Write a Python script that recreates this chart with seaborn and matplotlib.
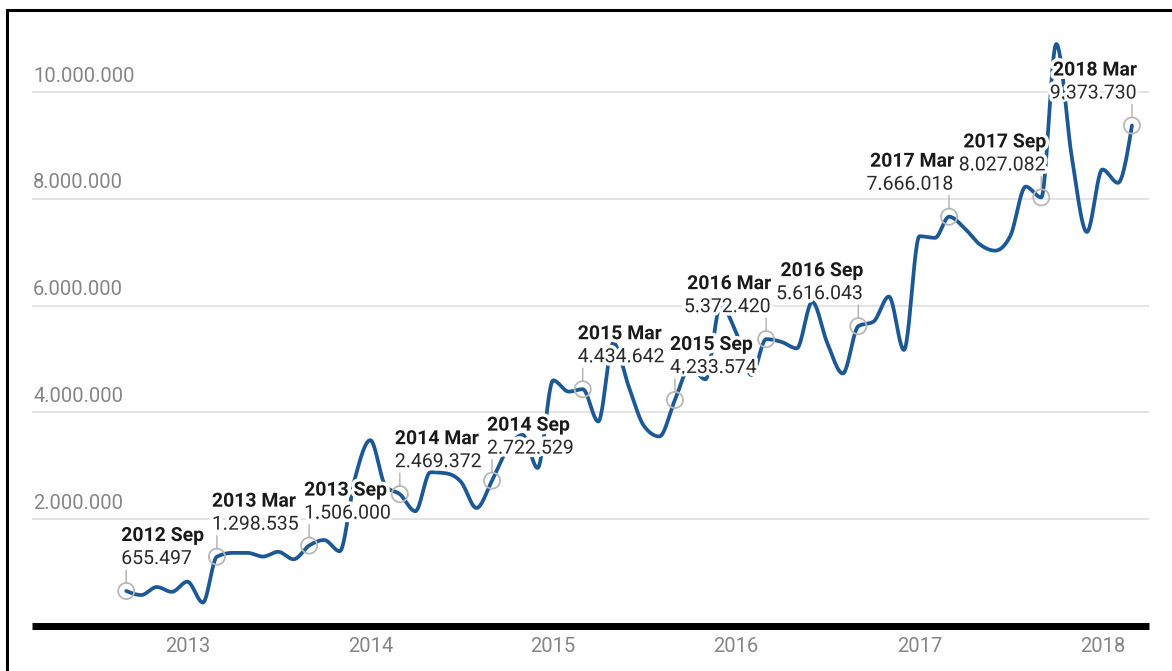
import numpy as np
import pandas as pd
import matplotlib
matplotlib.use("Agg")
import matplotlib.pyplot as plt
import matplotlib.dates as mdates
import matplotlib.patheffects as pe
from matplotlib.patches import Rectangle
from matplotlib.transforms import offset_copy
import seaborn as sns

# Monthly series, Sep 2012 - Mar 2018
months = pd.date_range("2012-09-01", "2018-03-01", freq="MS")
values = [
    655497, 580000, 730000, 640000, 830000, 440000,
    1298535, 1370000, 1370000, 1300000, 1390000, 1250000,
    1506000, 1610000, 1400000, 2750000, 3480000, 2610000,
    2469372, 2150000, 2880000, 2860000, 2700000, 2210000,
    2722529, 3300000, 3580000, 2960000, 4600000, 4390000,
    4434642, 3830000, 5300000, 4480000, 3750000, 3550000,
    4233574, 4850000, 4620000, 6000000, 5500000, 4700000,
    5372420, 5320000, 5200000, 6070000, 5300000, 4730000,
    5616043, 5700000, 6170000, 5170000, 7300000, 7270000,
    7666018, 7450000, 7150000, 7030000, 7300000, 8230000,
    8027082, 10900000, 8780000, 7380000, 8550000, 8300000,
    9373730,
]

# Annotated points (every six months)
label_titles = ["2012 Sep", "2013 Mar", "2013 Sep", "2014 Mar", "2014 Sep",
                "2015 Mar", "2015 Sep", "2016 Mar", "2016 Sep", "2017 Mar",
                "2017 Sep", "2018 Mar"]
label_months = pd.to_datetime(["2012-09-01", "2013-03-01", "2013-09-01",
                               "2014-03-01", "2014-09-01", "2015-03-01",
                               "2015-09-01", "2016-03-01", "2016-09-01",
                               "2017-03-01", "2017-09-01", "2018-03-01"])
label_align = ["left"] * 7 + ["right"] * 5

# Axis ticks
year_ticks = pd.to_datetime(["2013-01-01", "2014-01-01", "2015-01-01",
                             "2016-01-01", "2017-01-01", "2018-01-01"])
year_labels = ["2013", "2014", "2015", "2016", "2017", "2018"]
y_ticks = [2000000, 4000000, 6000000, 8000000, 10000000]


def fmt(v):
    return f"{v:,}".replace(",", ".")


def monotone_x(x, y, steps=24):
    """Monotone cubic (Steffen) interpolation used for the smooth line."""
    x = np.asarray(x, float)
    y = np.asarray(y, float)
    n = len(x)
    h = np.diff(x)
    s = np.diff(y) / h
    t = np.zeros(n)
    for i in range(1, n - 1):
        h0, h1, s0, s1 = h[i - 1], h[i], s[i - 1], s[i]
        p = (s0 * h1 + s1 * h0) / (h0 + h1)
        t[i] = (np.sign(s0) + np.sign(s1)) * min(abs(s0), abs(s1), 0.5 * abs(p))
    t[0] = (3 * s[0] - t[1]) / 2
    t[-1] = (3 * s[-1] - t[-2]) / 2
    xs, ys = [], []
    for i in range(n - 1):
        u = np.linspace(0, 1, steps, endpoint=False)
        h00 = 2 * u**3 - 3 * u**2 + 1
        h10 = u**3 - 2 * u**2 + u
        h01 = -2 * u**3 + 3 * u**2
        h11 = u**3 - u**2
        xs.append(x[i] + u * h[i])
        ys.append(h00 * y[i] + h10 * h[i] * t[i] + h01 * y[i + 1] + h11 * h[i] * t[i + 1])
    xs.append([x[-1]])
    ys.append([y[-1]])
    return np.concatenate(xs), np.concatenate(ys)


sns.set_theme(style="white")
plt.rcParams["font.family"] = ["Roboto", "DejaVu Sans"]

W, H = 1172, 671
fig = plt.figure(figsize=(W / 100, H / 100), dpi=100)
ax = fig.add_axes([32 / W, 1 - 626 / H, (1149 - 32) / W, (626 - 28) / H])

xnum = mdates.date2num(months)
sx, sy = monotone_x(xnum, values)
line_df = pd.DataFrame({"x": sx, "y": sy})
sns.lineplot(data=line_df, x="x", y="y", ax=ax, color="#1c5896", lw=2.7,
             sort=False, estimator=None, zorder=3)

x0 = mdates.date2num(pd.Timestamp("2012-09-01"))
ax.set_xlim(x0 - 188, x0 + 2041)
ax.set_ylim(0, 11.2e6)

# Gridlines and y labels
for yv in y_ticks:
    ax.axhline(yv, color="#e2e2e2", lw=1.3, zorder=1)
    ax.annotate(fmt(yv), xy=(0, yv), xycoords=("axes fraction", "data"),
                xytext=(1, 16), textcoords="offset pixels",
                ha="left", va="center", fontsize=14.5, color="#858585")

# Thick baseline
ax.plot([0, 1], [0, 0], transform=ax.get_yaxis_transform(), color="black",
        lw=5, solid_capstyle="butt", zorder=4, clip_on=False)

ax.set_yticks([])
ax.set_xticks(mdates.date2num(year_ticks))
ax.set_xticklabels(year_labels, fontsize=14.5, color="#858585")
ax.tick_params(axis="x", length=0, pad=8)
ax.set_xlabel("")
ax.set_ylabel("")
for sp in ax.spines.values():
    sp.set_visible(False)

# Annotated points with leader lines and haloed labels
value_lookup = dict(zip(months, values))
halo = [pe.withStroke(linewidth=5, foreground="white")]
lead_lo = offset_copy(ax.transData, fig=fig, x=0, y=8, units="dots")
lead_hi = offset_copy(ax.transData, fig=fig, x=0, y=21, units="dots")
for title, m, align in zip(label_titles, label_months, label_align):
    xv = mdates.date2num(m)
    yv = value_lookup[m]
    ax.scatter([xv], [yv], s=135, facecolors="none", edgecolors="#b8b8b8",
               linewidths=1.3, zorder=5)
    ax.annotate("", xy=(xv, yv), xycoords=lead_lo, xytext=(xv, yv),
                textcoords=lead_hi,
                arrowprops=dict(arrowstyle="-", color="#b0b0b0", lw=1,
                                shrinkA=0, shrinkB=0), zorder=5)
    dx = -5 if align == "left" else 5
    ax.annotate(fmt(yv), xy=(xv, yv), xytext=(dx, 32), textcoords="offset pixels",
                ha=align, va="center", fontsize=14, color="#2a2a2a",
                path_effects=halo, zorder=6)
    ax.annotate(title, xy=(xv, yv), xytext=(dx, 55), textcoords="offset pixels",
                ha=align, va="center", fontsize=14, fontweight="bold",
                color="#1a1a1a", path_effects=halo, zorder=6)

# Frame around the figure
fig.add_artist(Rectangle((7 / W, -0.1), 1.2, 1 - 10 / H + 0.1,
                         transform=fig.transFigure, fill=False,
                         ec="black", lw=2.2))

fig.savefig("out.png", dpi=100, facecolor="white")
